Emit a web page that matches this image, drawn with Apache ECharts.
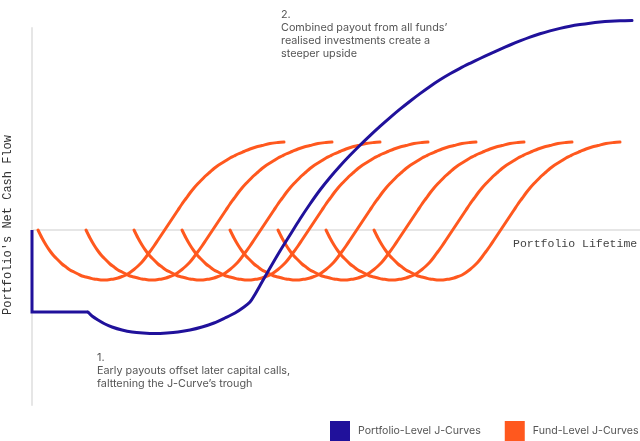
<!DOCTYPE html>
<html>
<head>
<meta charset="utf-8">
<script src="https://cdn.jsdelivr.net/npm/echarts@6/dist/echarts.min.js"></script>
<style>html,body{margin:0;padding:0;background:#fff;}#c{width:640px;height:441px;}</style>
</head>
<body>
<div id="c"></div>
<script>
// Fund-level J-curve shape (offset from each fund's start, in chart units)
var fundShapeX = [0, 1, 2, 3, 4, 5, 6, 7, 8, 9, 10, 11, 12, 13, 14, 15, 16, 17, 18, 19, 20, 21, 22, 23, 24, 25, 26, 27, 28, 29, 30, 31, 32, 33, 34, 35, 36, 37, 38, 39, 40, 41, 42, 43, 44, 45, 46, 47, 48, 49, 50, 51.5, 53, 54.5, 56, 58, 60, 61.5];
var fundShapeY = [0, -4, -7.5, -10.5, -13, -15, -17, -18.5, -20, -21, -22, -23, -23.5, -24, -24.5, -24.75, -25, -25, -24.75, -24.5, -24, -23.25, -22.5, -21.25, -19.75, -18, -16, -13.5, -10.75, -8, -5, -2, 1, 4, 7, 10, 13, 15.75, 18.5, 21, 23.25, 25.25, 27.25, 29, 30.75, 32.25, 33.5, 34.75, 36, 37, 38, 39.25, 40.5, 41.5, 42.25, 43.25, 43.75, 44];
var fundStarts = [1.5, 13.5, 25.5, 37.5, 49.5, 61.5, 73.5, 85.5];

// Portfolio-level J-curve: initial step, then the curve
var portStepX = [0, 0, 14];
var portStepY = [0, -41, -41];
var portCurveX = [14, 15, 16.5, 18.25, 20, 22.5, 25, 27.75, 30.75, 33.75, 36.5, 39.5, 42.5, 45.5, 48.25, 50.75, 53, 54.5, 55.5, 57.5, 59.5, 62, 64.5, 67, 69.5, 72, 74.5, 77, 79.5, 82, 84.5, 87, 89.5, 92, 94.5, 97, 99.5, 102, 104.5, 107, 109.5, 112, 114.5, 117, 119.5, 122, 124.5, 127, 129.5, 132, 134.5, 137, 139.5, 142, 144.5, 147, 150];
var portCurveY = [-41, -43, -45, -47, -48.5, -50, -51, -51.5, -51.75, -51.5, -51, -50, -48.5, -46.5, -44, -41.5, -38.5, -36, -33, -26, -19, -10.5, -2.5, 5.5, 13, 20, 26.25, 32, 37.35, 42.4, 47.2, 51.8, 56.2, 60.4, 64.4, 68.2, 71.8, 75.1, 78.1, 80.85, 83.35, 85.75, 88.1, 90.35, 92.5, 94.55, 96.45, 98.1, 99.55, 100.8, 101.85, 102.7, 103.4, 103.95, 104.35, 104.6, 104.75];

var seriesNames = ['Portfolio-Level J-Curves', 'Fund-Level J-Curves'];
var yAxisName = "Portfolio's Net Cash Flow";
var xAxisName = 'Portfolio Lifetime';
var note1 = ['1.', 'Early payouts offset later capital calls,', 'falttening the J-Curve\u2019s trough'];
var note2 = ['2.', 'Combined payout from all funds\u2019', 'realised investments create a', 'steeper upside'];

var BLUE = '#20119b';
var ORANGE = '#ff581e';

function zip(xs, ys) { return xs.map(function (x, i) { return [x, ys[i]]; }); }

var series = [];
fundStarts.forEach(function (s) {
  series.push({
    name: seriesNames[1], type: 'line', color: ORANGE,
    data: zip(fundShapeX.map(function (d) { return s + d; }), fundShapeY),
    smooth: 0.3, showSymbol: false, symbol: 'none', clip: false, z: 2,
    lineStyle: { color: ORANGE, width: 3, cap: 'round', join: 'round' }, silent: true
  });
});
series.push({
  name: seriesNames[0], type: 'line', color: BLUE,
  data: zip(portStepX, portStepY), smooth: false, symbol: 'none', clip: false, z: 5,
  lineStyle: { color: BLUE, width: 3, cap: 'butt', join: 'miter' }
});
series.push({
  name: seriesNames[0], type: 'line', color: BLUE,
  data: zip(portCurveX, portCurveY), smooth: 0.3, symbol: 'none', clip: false, z: 5,
  lineStyle: { color: BLUE, width: 3, cap: 'round', join: 'round' }
});

var textFont = 'Inter, "Noto Sans", sans-serif';
var chart = echarts.init(document.getElementById('c'), null, { renderer: 'canvas' });
chart.setOption({
  animation: false,
  backgroundColor: '#ffffff',
  grid: { left: 32, right: 0, top: 28, bottom: 36 },
  xAxis: {
    type: 'value', min: 0, max: 152,
    axisLine: { show: true, onZero: true, lineStyle: { color: '#e6e6e6', width: 2 } },
    axisTick: { show: false }, axisLabel: { show: false }, splitLine: { show: false }
  },
  yAxis: {
    type: 'value', min: -87.5, max: 101,
    axisLine: { show: true, onZero: false, lineStyle: { color: '#e6e6e6', width: 2 } },
    axisTick: { show: false }, axisLabel: { show: false }, splitLine: { show: false }
  },
  legend: {
    data: seriesNames, left: 330, top: 421, icon: 'rect', padding: 0,
    width: 320, itemWidth: 20, itemHeight: 20, itemGap: 24,
    textStyle: { fontFamily: textFont, fontSize: 10.6, color: '#555555', padding: [0, 0, 0, 3] }
  },
  graphic: [
    { type: 'text', x: 8, y: 225, rotation: Math.PI / 2,
      style: { text: yAxisName, font: '12px "Liberation Mono", monospace', fill: '#333333', align: 'center', verticalAlign: 'middle' } },
    { type: 'text', x: 513, y: 244,
      style: { text: xAxisName, font: '11.5px "Liberation Mono", monospace', fill: '#444444', align: 'left', verticalAlign: 'middle' } },
    { type: 'text', x: 97, y: 351,
      style: { text: note1.join('\n'), font: '10.8px ' + textFont, fill: '#555555', lineHeight: 13 } },
    { type: 'text', x: 281, y: 8,
      style: { text: note2.join('\n'), font: '10.8px ' + textFont, fill: '#555555', lineHeight: 13 } }
  ],
  series: series
});
</script>
</body>
</html>
